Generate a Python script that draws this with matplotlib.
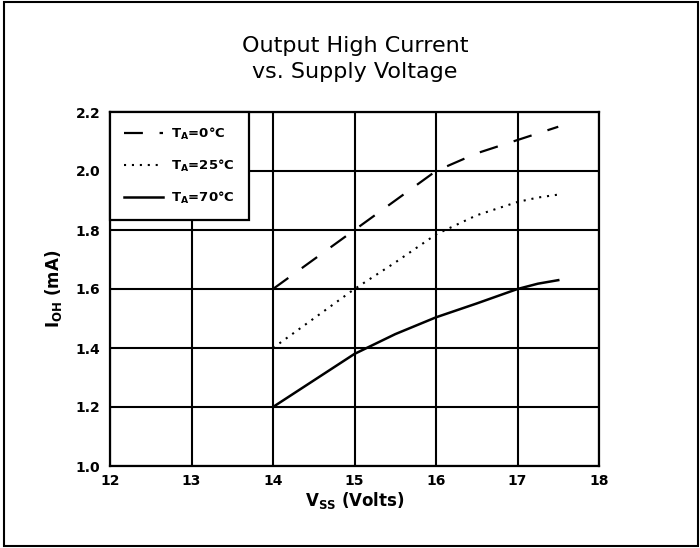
import matplotlib
matplotlib.use("Agg")
import matplotlib.pyplot as plt
from matplotlib.patches import Rectangle

# Data
vss_0c = [14.0, 14.5, 15.0, 15.5, 16.0, 16.25, 16.5, 17.0, 17.5]
ioh_0c = [1.60, 1.70, 1.80, 1.90, 2.00, 2.03, 2.06, 2.105, 2.15]

vss_25c = [14.0, 14.5, 15.0, 15.5, 16.0, 16.5, 17.0, 17.25, 17.5]
ioh_25c = [1.40, 1.50, 1.60, 1.69, 1.785, 1.85, 1.895, 1.91, 1.92]

vss_70c = [14.0, 14.5, 15.0, 15.5, 16.0, 16.5, 17.0, 17.25, 17.5]
ioh_70c = [1.20, 1.29, 1.38, 1.447, 1.504, 1.551, 1.60, 1.618, 1.63]

labels = [r'T$_\mathregular{A}$=0°C', r'T$_\mathregular{A}$=25°C', r'T$_\mathregular{A}$=70°C']
x_ticks = [12, 13, 14, 15, 16, 17, 18]
y_ticks = [1.0, 1.2, 1.4, 1.6, 1.8, 2.0, 2.2]

plt.rcParams['font.family'] = ['DejaVu Sans']
plt.rcParams['mathtext.default'] = 'regular'

fig = plt.figure(figsize=(7.0, 5.48), dpi=100)
ax = fig.add_axes([110/700, 82/548, 489/700, 354/548])

lw = 1.6
ax.plot(vss_0c, ioh_0c, color='black', lw=lw, linestyle=(0, (8.5, 7.5)), label=labels[0])
ax.plot(vss_25c, ioh_25c, color='black', lw=1.5, linestyle=(0, (1, 2.8)), label=labels[1])
ax.plot(vss_70c, ioh_70c, color='black', lw=1.8, linestyle='-', label=labels[2])

ax.set_xlim(12, 18)
ax.set_ylim(1.0, 2.2)
ax.set_xticks(x_ticks)
ax.set_yticks(y_ticks)
ax.set_xticklabels([str(v) for v in x_ticks], fontsize=10, fontweight='bold')
ax.set_yticklabels([f"{v:.1f}" for v in y_ticks], fontsize=10, fontweight='bold')
ax.tick_params(length=0, pad=6)
ax.tick_params(axis='y', pad=7)
ax.grid(True, color='black', lw=1.5)
ax.set_axisbelow(True)
for s in ax.spines.values():
    s.set_linewidth(1.6)

ax.set_xlabel(r'V$_\mathregular{SS}$ (Volts)', fontsize=12, fontweight='bold', labelpad=1)
ax.set_ylabel(r'I$_\mathregular{OH}$ (mA)', fontsize=12, fontweight='bold', labelpad=8)

fig.text(355/700, 1 - 59/548, 'Output High Current\nvs. Supply Voltage',
         ha='center', va='center', fontsize=16, linespacing=1.35)

leg = ax.legend(loc='upper left', bbox_to_anchor=(0, 1), borderaxespad=0,
                fancybox=False, framealpha=1, edgecolor='black',
                prop={'size': 9.5, 'weight': 'bold'}, handlelength=3.0,
                handletextpad=0.6, labelspacing=1.2, borderpad=1.05)
leg.get_frame().set_linewidth(1.6)

fig.add_artist(Rectangle((4/700, 2/548), 694/700, 544/548, transform=fig.transFigure,
                         fill=False, edgecolor='black', lw=1.5))

fig.savefig('out.png', dpi=100)
